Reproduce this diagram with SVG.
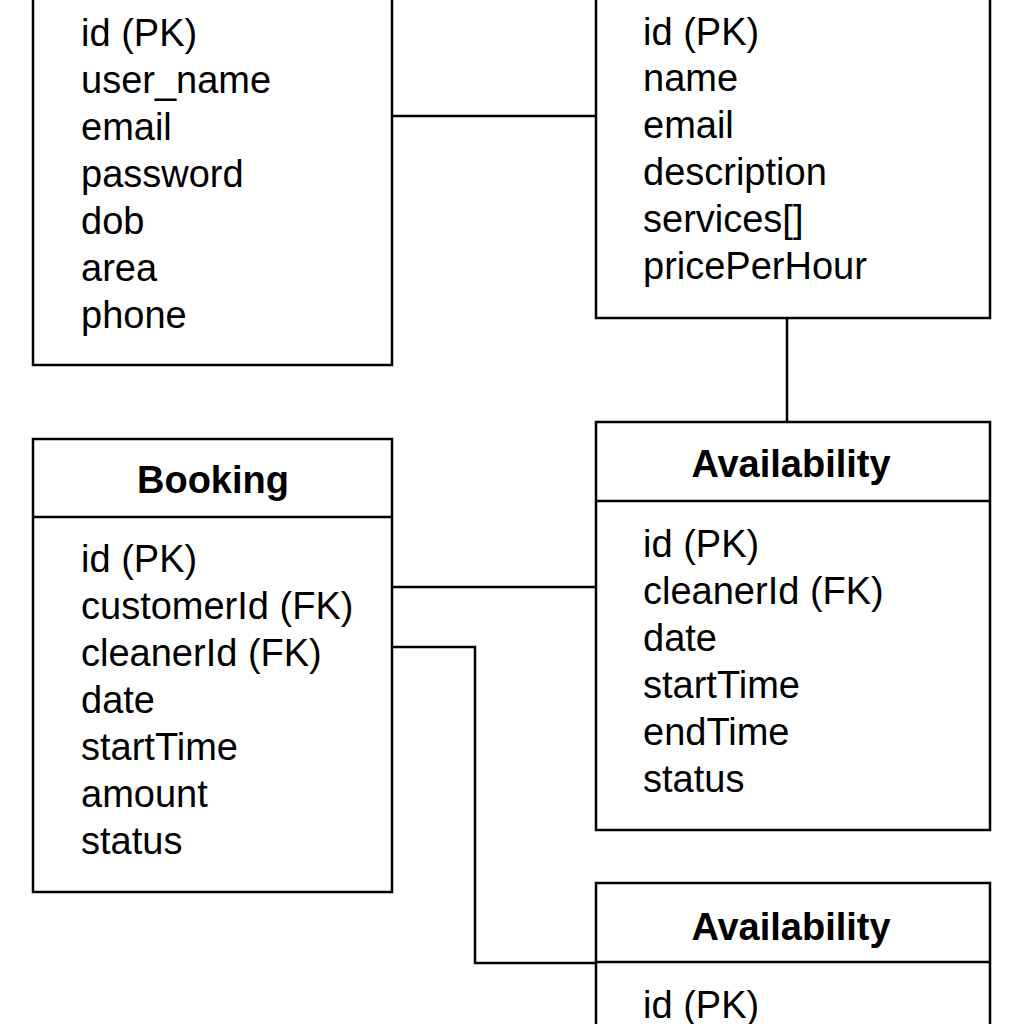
<svg xmlns="http://www.w3.org/2000/svg" width="1024" height="1024" viewBox="0 0 1024 1024">
<style>
.box{fill:#fff;stroke:#000;stroke-width:2.5}
.sep{stroke:#000;stroke-width:2.5}
.con{fill:none;stroke:#000;stroke-width:2.5}
.row{font-family:"Liberation Sans",Arial,sans-serif;font-size:38px;fill:#000}
.title{font-family:"Liberation Sans",Arial,sans-serif;font-size:38px;font-weight:bold;fill:#000;text-anchor:middle}
</style>
<rect width="1024" height="1024" fill="#fff"/>
<g id="connectors">
<path class="con" d="M392 116H596"/>
<path class="con" d="M787 318V422"/>
<path class="con" d="M392 587H596"/>
<path class="con" d="M392 647H475V963H596"/>
</g>
<g id="customer">
<rect class="box" x="33" y="-20" width="359" height="385"/>
<text class="row" x="81" y="46">id (PK)</text>
<text class="row" x="81" y="93">user_name</text>
<text class="row" x="81" y="140">email</text>
<text class="row" x="81" y="187">password</text>
<text class="row" x="81" y="234">dob</text>
<text class="row" x="81" y="281">area</text>
<text class="row" x="81" y="328">phone</text>
</g>
<g id="cleaner">
<rect class="box" x="596" y="-20" width="394" height="338"/>
<text class="row" x="643" y="45">id (PK)</text>
<text class="row" x="643" y="91">name</text>
<text class="row" x="643" y="138">email</text>
<text class="row" x="643" y="185">description</text>
<text class="row" x="643" y="232">services[]</text>
<text class="row" x="643" y="279">pricePerHour</text>
</g>
<g id="booking">
<rect class="box" x="33" y="439" width="359" height="453"/>
<line class="sep" x1="33" y1="517" x2="392" y2="517"/>
<text class="title" x="213" y="493">Booking</text>
<text class="row" x="81" y="572">id (PK)</text>
<text class="row" x="81" y="619">customerId (FK)</text>
<text class="row" x="81" y="666">cleanerId (FK)</text>
<text class="row" x="81" y="713">date</text>
<text class="row" x="81" y="760">startTime</text>
<text class="row" x="81" y="807">amount</text>
<text class="row" x="81" y="854">status</text>
</g>
<g id="availability1">
<rect class="box" x="596" y="422" width="394" height="408"/>
<line class="sep" x1="596" y1="501" x2="990" y2="501"/>
<text class="title" x="791" y="477">Availability</text>
<text class="row" x="643" y="557">id (PK)</text>
<text class="row" x="643" y="604">cleanerId (FK)</text>
<text class="row" x="643" y="651">date</text>
<text class="row" x="643" y="698">startTime</text>
<text class="row" x="643" y="745">endTime</text>
<text class="row" x="643" y="792">status</text>
</g>
<g id="availability2">
<rect class="box" x="596" y="883" width="394" height="200"/>
<line class="sep" x1="596" y1="962" x2="990" y2="962"/>
<text class="title" x="791" y="940">Availability</text>
<text class="row" x="643" y="1018">id (PK)</text>
</g>
</svg>
